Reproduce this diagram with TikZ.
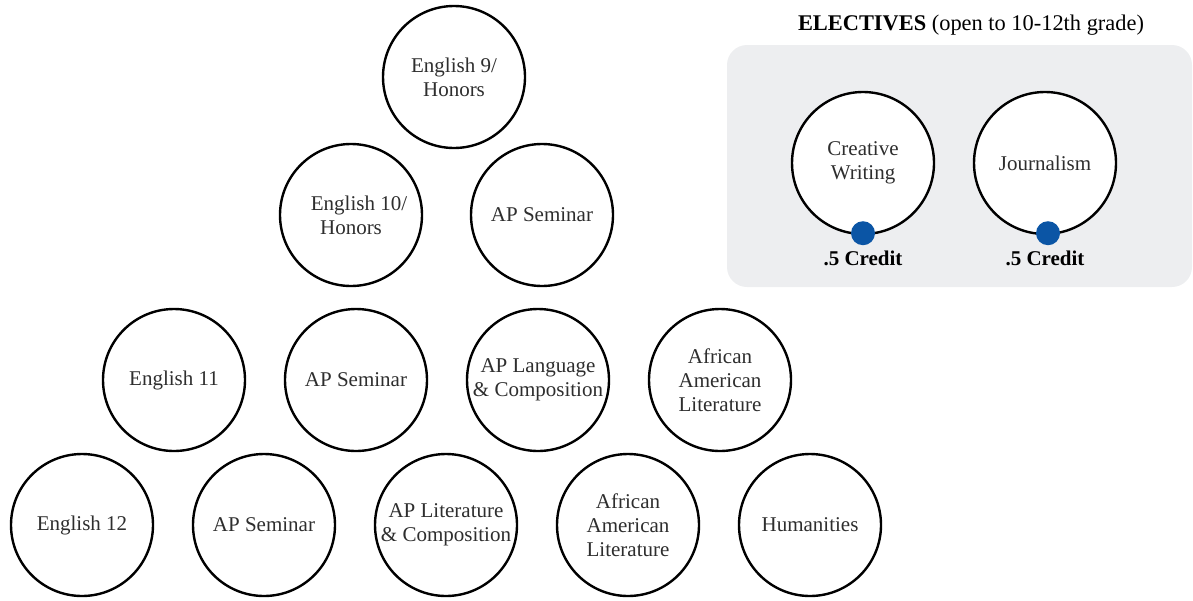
\documentclass[tikz,border=0pt]{standalone}
\usepackage{fontspec}
\setmainfont{Liberation Serif}
\definecolor{boxgray}{HTML}{EDEEF0}
\definecolor{dotblue}{HTML}{0B55A5}
\definecolor{textgray}{HTML}{2E2E2E}
\tikzset{
  course/.style={circle, draw=black, line width=1.2pt, fill=white, minimum size=71pt,
    inner sep=0pt, align=center, text=textgray, font=\fontsize{10.5}{12}\selectfont},
  creditdot/.style={circle, fill=dotblue, minimum size=12pt, inner sep=0pt},
  creditlabel/.style={anchor=base, font=\fontsize{10.5}{12}\selectfont\bfseries},
  electbox/.style={fill=boxgray, rounded corners=10pt}
}
\begin{document}
\begin{tikzpicture}[x=0.5pt,y=-0.5pt]
\useasboundingbox (0,0) rectangle (1193,600);
% row 1
\node[course] (e9) at (454,77) {English 9/\\Honors};
% row 2
\node[course] (e10) at (351,215) {\hspace*{8pt}English 10/\\Honors};
\node[course] (aps2) at (542,215) {AP Seminar};
% row 3
\node[course] (e11) at (174,380) {English 11};
\node[course] (aps3) at (356,380) {AP Seminar};
\node[course] (apl) at (538,380) {AP Language\\\& Composition};
\node[course] (aal3) at (720,380) {African\\American\\Literature};
% row 4
\node[course] (e12) at (82,525) {English 12};
\node[course] (aps4) at (264,525) {AP Seminar};
\node[course] (aplit) at (446,525) {AP Literature\\\& Composition};
\node[course] (aal4) at (628,525) {African\\American\\Literature};
\node[course] (hum) at (810,525) {Humanities};
% electives
\node[anchor=base, font=\fontsize{11.2}{13}\selectfont] (title) at (971,30)
  {\textbf{ELECTIVES} (open to 10-12th grade)};
\path[electbox] (727,45) rectangle (1192,287);
\node[course] (cw) at (863,163) {Creative\\Writing};
\node[course] (jour) at (1045,163) {Journalism};
\node[creditdot] (cwdot) at ([yshift=1pt]cw.south) {};
\node[creditdot] (jdot) at ([xshift=1.5pt,yshift=1pt]jour.south) {};
\node[creditlabel] (cwcred) at (863,265) {.5 Credit};
\node[creditlabel] (jcred) at (1045,265) {.5 Credit};
\end{tikzpicture}
\end{document}
